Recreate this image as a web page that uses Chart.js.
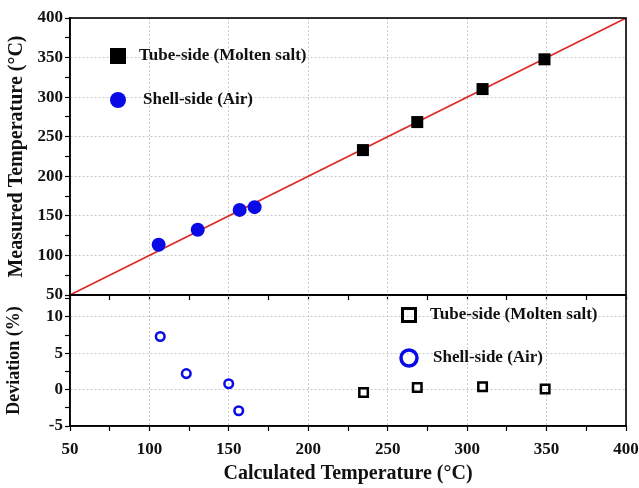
<!DOCTYPE html>
<html>
<head>
<meta charset="utf-8">
<script src="https://cdn.jsdelivr.net/npm/chart.js@4.4.0/dist/chart.umd.min.js"></script>
<style>
html, body { margin: 0; padding: 0; background: #fff; }
#wrap { position: relative; width: 639px; height: 488px; }
canvas { position: absolute; left: 0; top: 0; }
</style>
</head>
<body>
<div id="wrap">
  <canvas id="topChart" width="639" height="488"></canvas>
  <canvas id="bottomChart" width="639" height="488"></canvas>
</div>
<script>
// Measured vs calculated temperature (top panel)
const tubeCalc = [234.4, 268.6, 309.7, 348.7];
const tubeMeas = [233.1, 268.5, 310.2, 347.8];
const shellCalc = [105.8, 130.4, 156.8, 166.2];
const shellMeas = [113.5, 132.5, 157.5, 161];
// y = x reference line
const parityX = [50, 400];
const parityY = [50, 400];

// Deviation (bottom panel)
const tubeDevX = [234.8, 268.6, 309.7, 349.1];
const tubeDev = [-0.4, 0.3, 0.4, 0.1];
const shellDevX = [106.8, 123.2, 149.9, 156.2];
const shellDev = [7.3, 2.2, 0.8, -2.9];

const seriesLabels = ['Tube-side (Molten salt)', 'Shell-side (Air)'];

// Labelled (major) ticks
const xMajor = [50, 100, 150, 200, 250, 300, 350, 400];
const tempMajor = [50, 100, 150, 200, 250, 300, 350, 400];
const devMajor = [-5, 0, 5, 10];

const FONT = "'Liberation Serif', 'Times New Roman', serif";
const BLUE = '#0a0ae6';

const toPoints = (xs, ys) => xs.map((x, i) => ({ x: x, y: ys[i] }));

// Box around the plot area
const framePlugin = {
    id: 'frame',
    afterDraw(chart) {
        const { ctx, chartArea: a } = chart;
        ctx.save();
        ctx.strokeStyle = '#000';
        ctx.lineWidth = 1.6;
        ctx.strokeRect(a.left, a.top, a.right - a.left, a.bottom - a.top);
        ctx.restore();
    }
};

// Legend drawn inside the plot, built from the dataset styles
const markerLegend = {
    id: 'markerLegend',
    afterDraw(chart, args, opts) {
        const ctx = chart.ctx;
        ctx.save();
        opts.items.forEach(item => {
            const ds = chart.data.datasets[item.dataset];
            ctx.lineWidth = item.borderWidth;
            ctx.strokeStyle = ds.borderColor;
            ctx.fillStyle = ds.backgroundColor;
            ctx.beginPath();
            if (ds.pointStyle === 'rect') {
                const h = item.size / 2;
                ctx.rect(item.x - h, item.y - h, item.size, item.size);
            } else {
                ctx.arc(item.x, item.y, item.size / 2, 0, Math.PI * 2);
            }
            ctx.fill();
            if (item.borderWidth) ctx.stroke();
            ctx.fillStyle = '#111';
            ctx.font = 'bold 17px ' + FONT;
            ctx.textBaseline = 'middle';
            ctx.fillText(ds.label, item.textX, item.y);
        });
        ctx.restore();
    }
};

const gridColor = (major) => (c) => (c.tick && major.includes(c.tick.value)) ? '#c8c8c8' : 'rgba(0,0,0,0)';

const xScale = (showLabels) => ({
    type: 'linear',
    min: 50,
    max: 400,
    ticks: {
        stepSize: 25,
        display: showLabels,
        autoSkip: false,
        maxRotation: 0,
        padding: 8,
        color: '#111',
        font: { family: FONT, size: 17, weight: 'bold' },
        callback: v => xMajor.includes(v) ? v : ''
    },
    grid: { color: gridColor(xMajor), tickColor: '#000', tickLength: 5, lineWidth: 1, tickWidth: 1.2 },
    border: { color: '#000', width: 1.6, dash: [2, 2] },
    title: {
        display: showLabels,
        text: 'Calculated Temperature (°C)',
        color: '#111',
        font: { family: FONT, size: 20, weight: 'bold' },
        padding: { top: 0, bottom: 2 }
    },
    afterFit: s => {
        s.height = showLabels ? 62 : 0;
        s.paddingLeft = 0;
        s.paddingRight = 0;
    }
});

const yScale = (min, max, major, title, titleSize, titlePad) => ({
    type: 'linear',
    min: min,
    max: max,
    ticks: {
        stepSize: (major[1] - major[0]) / 2,
        includeBounds: false,
        autoSkip: false,
        padding: 2,
        color: '#111',
        font: { family: FONT, size: 17, weight: 'bold' },
        callback: v => major.includes(v) ? v : ''
    },
    grid: { color: gridColor(major), tickColor: '#000', tickLength: 5, lineWidth: 1, tickWidth: 1.2 },
    border: { color: '#000', width: 1.6, dash: [2, 2] },
    title: {
        display: true,
        text: title,
        color: '#111',
        font: { family: FONT, size: titleSize, weight: 'bold' },
        padding: { top: titlePad, bottom: 0 }
    },
    afterFit: s => {
        s.width = 70;
        s.paddingTop = 0;
        s.paddingBottom = 0;
    }
});

// Top panel: measured vs calculated
new Chart(document.getElementById('topChart'), {
    type: 'scatter',
    data: {
        datasets: [{
            label: seriesLabels[0],
            data: toPoints(tubeCalc, tubeMeas),
            pointStyle: 'rect',
            pointRadius: 8.5,
            backgroundColor: '#000',
            borderColor: '#000',
            borderWidth: 0
        }, {
            label: seriesLabels[1],
            data: toPoints(shellCalc, shellMeas),
            pointStyle: 'circle',
            pointRadius: 7,
            backgroundColor: BLUE,
            borderColor: BLUE,
            borderWidth: 0
        }, {
            label: 'y = x',
            data: toPoints(parityX, parityY),
            showLine: true,
            pointRadius: 0,
            borderColor: '#e02828',
            borderWidth: 1.6
        }]
    },
    options: {
        responsive: false,
        animation: false,
        layout: { padding: { top: 18, right: 13, bottom: 193, left: 0 } },
        scales: {
            x: xScale(false),
            y: yScale(50, 400, tempMajor, 'Measured Temperature (°C)', 20, 5)
        },
        plugins: {
            legend: { display: false },
            tooltip: { enabled: false },
            markerLegend: {
                items: [
                    { dataset: 0, x: 118, y: 56, size: 16, borderWidth: 0, textX: 139 },
                    { dataset: 1, x: 118, y: 100, size: 16, borderWidth: 0, textX: 143 }
                ]
            }
        }
    },
    plugins: [framePlugin, markerLegend]
});

// Bottom panel: deviation
new Chart(document.getElementById('bottomChart'), {
    type: 'scatter',
    data: {
        datasets: [{
            label: seriesLabels[0],
            data: toPoints(tubeDevX, tubeDev),
            pointStyle: 'rect',
            pointRadius: 6,
            backgroundColor: 'rgba(255,255,255,0)',
            borderColor: '#000',
            borderWidth: 2.5
        }, {
            label: seriesLabels[1],
            data: toPoints(shellDevX, shellDev),
            pointStyle: 'circle',
            pointRadius: 4.3,
            backgroundColor: 'rgba(255,255,255,0)',
            borderColor: BLUE,
            borderWidth: 2.5
        }]
    },
    options: {
        responsive: false,
        animation: false,
        layout: { padding: { top: 295, right: 13, bottom: 0, left: 0 } },
        scales: {
            x: xScale(true),
            y: yScale(-5, 13, devMajor, 'Deviation (%)', 18, 4)
        },
        plugins: {
            legend: { display: false },
            tooltip: { enabled: false },
            markerLegend: {
                items: [
                    { dataset: 0, x: 409, y: 315, size: 13, borderWidth: 3, textX: 430 },
                    { dataset: 1, x: 409, y: 358, size: 16, borderWidth: 3.5, textX: 433 }
                ]
            }
        }
    },
    plugins: [framePlugin, markerLegend]
});
</script>
</body>
</html>
